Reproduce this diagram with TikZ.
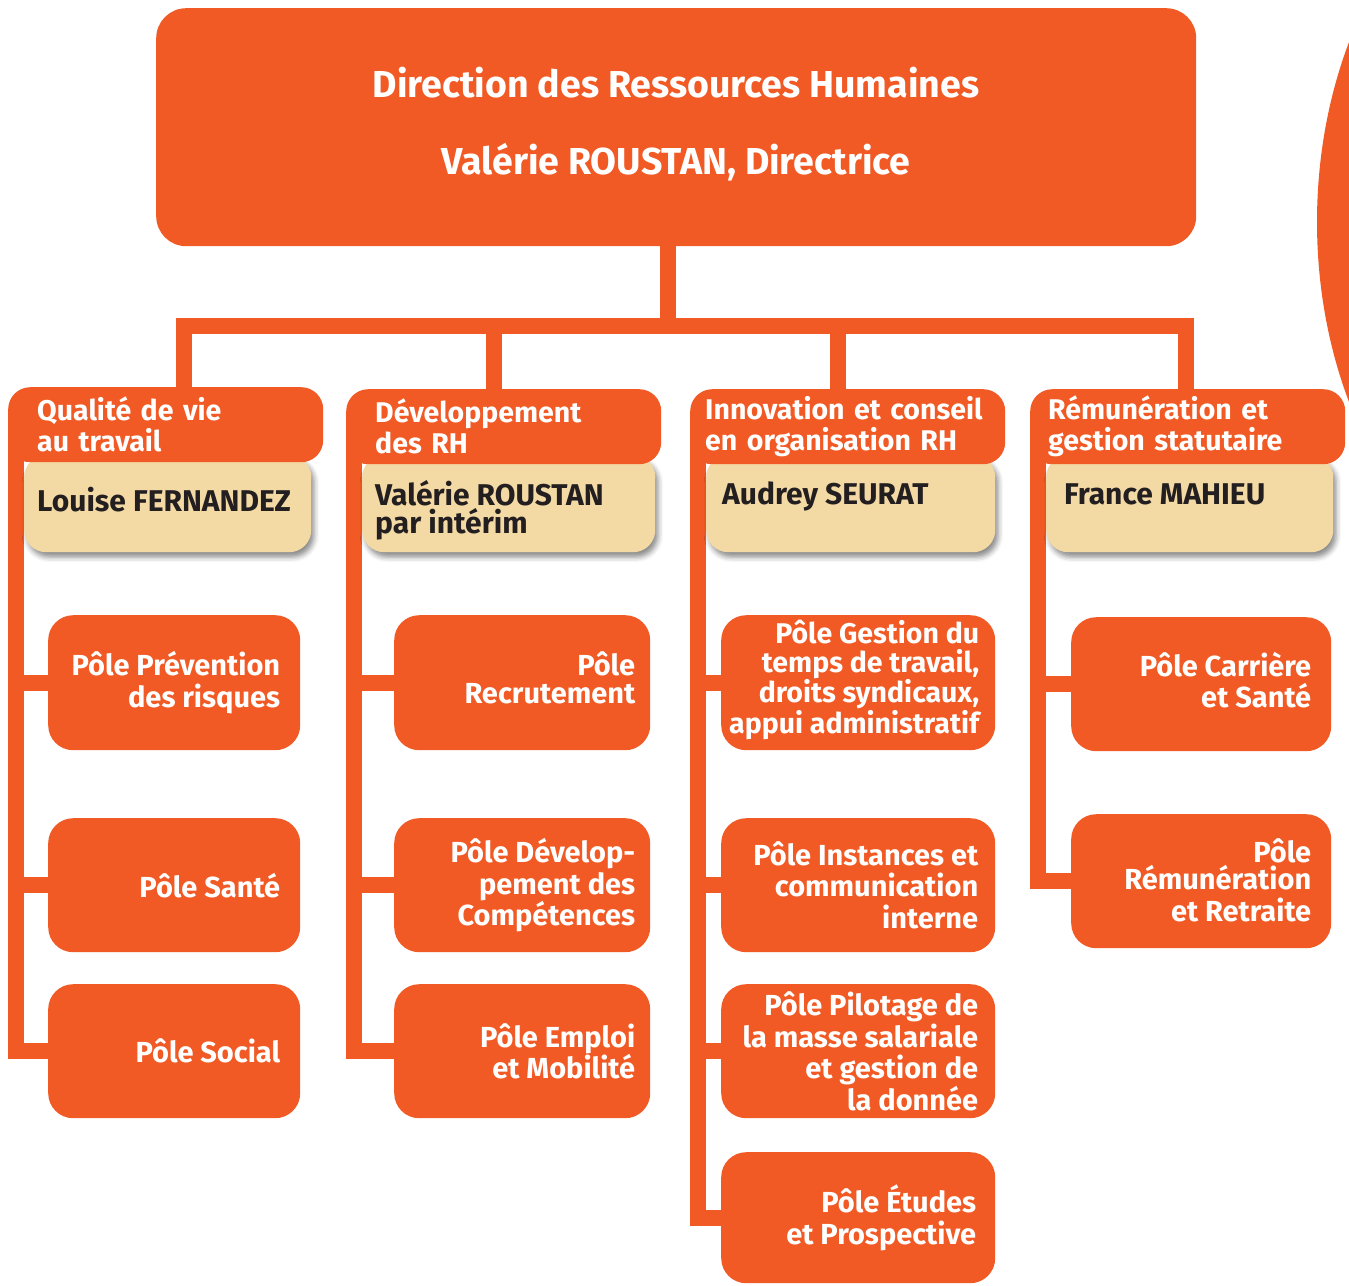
\documentclass[tikz,border=0pt]{standalone}
\usepackage{fontspec}
\setmainfont{Fira Sans}
\usetikzlibrary{shadows.blur,backgrounds}
\definecolor{dor}{RGB}{241,90,36}
\definecolor{dbeige}{RGB}{243,217,163}
\definecolor{dink}{RGB}{35,31,32}
\newcommand\dtfont{\fontsize{37.5}{77}\selectfont\bfseries}
\newcommand\dhfont{\fontsize{28.5}{31}\selectfont\bfseries}
\newcommand\dnfont{\fontsize{30}{28}\selectfont\bfseries}
\newcommand\dpfont{\fontsize{29}{31.5}\selectfont\bfseries}
\newcommand\dpfonttight{\fontsize{28.5}{29}\selectfont\bfseries}
\begin{document}
\begin{tikzpicture}[x=1pt,y=-1pt,
  conn/.style={draw=dor,line width=16pt},
  topbox/.style={fill=dor,rounded corners=30pt,anchor=north west,inner sep=0pt},
  titletext/.style={text=white,font=\dtfont,align=center,inner sep=0pt},
  hdr/.style={fill=dor,rounded corners=22pt,minimum height=75pt,minimum width=315pt,text=white,font=\dhfont,align=left,anchor=north west,inner ysep=0pt},
  beige/.style={fill=dbeige,rounded corners=22pt,minimum height=97pt,anchor=north west,inner sep=0pt,
    blur shadow={shadow xshift=3pt,shadow yshift=-5pt,shadow blur radius=5pt,shadow opacity=45}},
  nametext/.style={text=dink,font=\dnfont,align=left,anchor=west,inner sep=0pt},
  pole/.style={fill=dor,rounded corners=25pt,anchor=north west,inner sep=0pt},
  poletext/.style={text=white,font=\dpfont,align=right,anchor=east,inner sep=0pt},
]
\useasboundingbox (0,0) rectangle (1349,1285);

% top box
\node[topbox,minimum width=1040pt,minimum height=238pt] (top) at (156,8) {};
\node[titletext] (title) at (676,124) {Direction des Ressources Humaines\\Valérie ROUSTAN, Directrice};

% beige name boxes
\node[beige,minimum width=287pt] (n1) at (24,455) {};
\node[beige,minimum width=293pt] (n2) at (362,455) {};
\node[beige,minimum width=289pt] (n3) at (706,455) {};
\node[beige,minimum width=287pt] (n4) at (1046,455) {};

% headers
\node[hdr,inner xsep=29pt,text width=257pt] (h1) at (8,387) {Qualité de vie\\au travail};
\node[hdr,inner xsep=29pt,text width=257pt] (h2) at (346,389) {Développement\\des RH};
\node[hdr,inner xsep=15pt,text width=285pt] (h3) at (690,389) {Innovation et conseil\\en organisation RH};
\node[hdr,inner xsep=18pt,text width=279pt] (h4) at (1030,389) {Rémunération et\\gestion statutaire};

% names
\node[nametext] (m1) at (37,500) {Louise FERNANDEZ};
\node[nametext] (m2) at (375,510) {Valérie ROUSTAN\\par intérim};
\node[nametext] (m3) at (722,496) {Audrey SEURAT};
\node[nametext] (m4) at (1064,494) {France MAHIEU};

% pole boxes
\node[pole,minimum width=252pt,minimum height=135pt] (p11) at (48,615) {};
\node[pole,minimum width=252pt,minimum height=134pt] (p12) at (48,818) {};
\node[pole,minimum width=252pt,minimum height=134pt] (p13) at (48,984) {};
\node[pole,minimum width=256pt,minimum height=135pt] (p21) at (394,615) {};
\node[pole,minimum width=256pt,minimum height=134pt] (p22) at (394,818) {};
\node[pole,minimum width=256pt,minimum height=134pt] (p23) at (394,984) {};
\node[pole,minimum width=274pt,minimum height=135pt] (p31) at (721,615) {};
\node[pole,minimum width=274pt,minimum height=134pt] (p32) at (721,818) {};
\node[pole,minimum width=274pt,minimum height=134pt] (p33) at (721,984) {};
\node[pole,minimum width=274pt,minimum height=131pt] (p34) at (721,1152) {};
\node[pole,minimum width=260pt,minimum height=134pt] (p41) at (1071,617) {};
\node[pole,minimum width=260pt,minimum height=134pt] (p42) at (1071,814) {};

% pole texts
\node[poletext] (t11) at ([xshift=-20pt]p11.east) {Pôle Prévention\\des risques};
\node[poletext] (t12) at ([xshift=-20pt]p12.east) {Pôle Santé};
\node[poletext] (t13) at ([xshift=-20pt]p13.east) {Pôle Social};
\node[poletext] (t21) at ([xshift=-15pt,yshift=5pt]p21.east) {Pôle\\[-3.5pt]Recrutement};
\node[poletext] (t22) at ([xshift=-15pt]p22.east) {Pôle Dévelop-\\pement des\\Compétences};
\node[poletext] (t23) at ([xshift=-15pt]p23.east) {Pôle Emploi\\et Mobilité};
\node[poletext,font=\dpfonttight] (t31) at ([xshift=-16pt,yshift=3pt]p31.east) {Pôle Gestion du\\temps de travail,\\droits syndicaux,\\appui administratif};
\node[poletext] (t32) at ([xshift=-17pt]p32.east) {Pôle Instances et\\communication\\interne};
\node[poletext] (t33) at ([xshift=-17pt]p33.east) {Pôle Pilotage de\\la masse salariale\\et gestion de\\la donnée};
\node[poletext] (t34) at ([xshift=-19pt]p34.east) {Pôle Études\\et Prospective};
\node[poletext] (t41) at ([xshift=-20pt,yshift=4pt]p41.east) {Pôle Carrière\\et Santé};
\node[poletext] (t42) at ([xshift=-20pt,yshift=1pt]p42.east) {Pôle\\[-4pt]Rémunération\\et Retraite};

% coordinates
\coordinate (tb) at (668,326);
\coordinate (b1) at (184,326);
\coordinate (b2) at (494,326);
\coordinate (b3) at (838,326);
\coordinate (b4) at (1186,326);
\coordinate (s1) at ([xshift=8pt]h1.west);
\coordinate (s2) at ([xshift=8pt]h2.west);
\coordinate (s3) at ([xshift=8pt]h3.west);
\coordinate (s4) at ([xshift=8pt]h4.west);

\begin{scope}[on background layer]
  \begin{scope}
    \clip (0,0) rectangle (1349,1285);
    \fill[dor] (1617,222) ellipse [x radius=300, y radius=400];
  \end{scope}
  % trunk and bar
  \draw[conn] (tb |- top.center) -- (tb);
  \draw[conn] (h1.center -| b1) -- (b1) -- (b4) -- (h4.center -| b4);
  \draw[conn] (b2) -- (h2.center -| b2);
  \draw[conn] (b3) -- (h3.center -| b3);
  % column spines
  \draw[conn] (s1) |- (p13.west);
  \draw[conn] (p11.west -| s1) -- (p11.west);
  \draw[conn] (p12.west -| s1) -- (p12.west);
  \draw[conn] (s2) |- (p23.west);
  \draw[conn] (p21.west -| s2) -- (p21.west);
  \draw[conn] (p22.west -| s2) -- (p22.west);
  \draw[conn] (s3) |- (p34.west);
  \draw[conn] (p31.west -| s3) -- (p31.west);
  \draw[conn] (p32.west -| s3) -- (p32.west);
  \draw[conn] (p33.west -| s3) -- (p33.west);
  \draw[conn] (s4) |- (p42.west);
  \draw[conn] (p41.west -| s4) -- (p41.west);
\end{scope}
\end{tikzpicture}
\end{document}
